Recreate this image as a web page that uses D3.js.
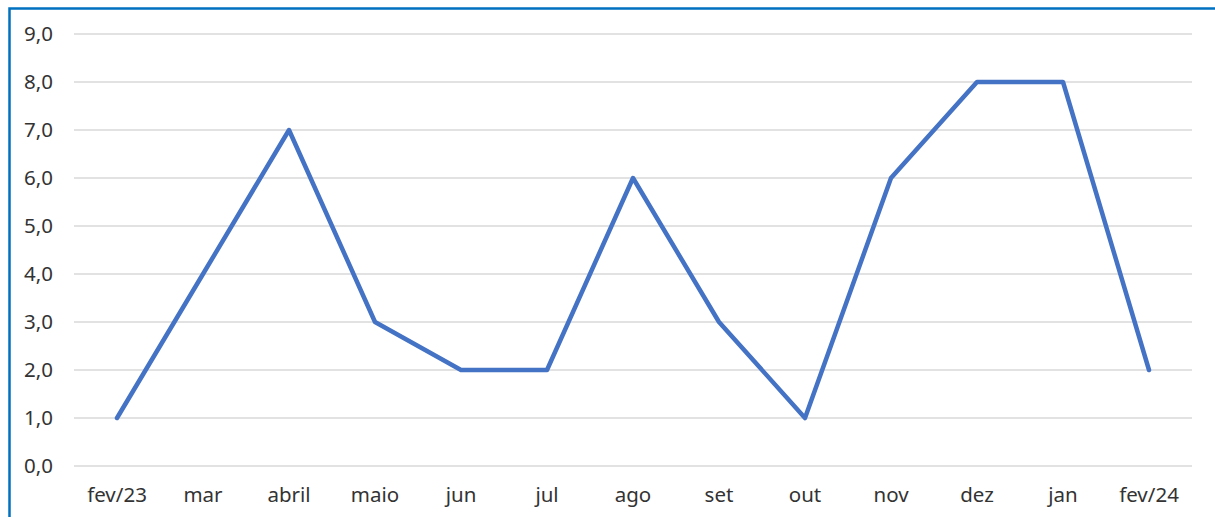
<!DOCTYPE html>
<html>
<head>
<meta charset="utf-8">
<script src="https://cdn.jsdelivr.net/npm/d3@7"></script>
<style>
  body { margin: 0; background: #fff; }
  svg { display: block; }
</style>
</head>
<body>
<div id="graph"></div>
<script>
var months = ["fev/23", "mar", "abril", "maio", "jun", "jul", "ago", "set", "out", "nov", "dez", "jan", "fev/24"];
var values = [1, 4, 7, 3, 2, 2, 6, 3, 1, 6, 8, 8, 2];
var yTicks = [0, 1, 2, 3, 4, 5, 6, 7, 8, 9];

var W = 1215, H = 517;
var margin = {top: 34, right: 23, bottom: 51, left: 74},
    w = W - margin.left - margin.right,
    h = H - margin.top - margin.bottom;

var svg = d3.select("#graph").append("svg")
    .attr("width", W)
    .attr("height", H);

// moldura azul
svg.append("rect")
    .attr("x", 9.5)
    .attr("y", 8.5)
    .attr("width", W + 20)
    .attr("height", H + 20)
    .attr("fill", "none")
    .attr("stroke", "#0070C0")
    .attr("stroke-width", 2.5);

var g = svg.append("g")
    .attr("transform", "translate(" + margin.left + "," + margin.top + ")");

var x = d3.scaleBand().domain(months).range([0, w]);
var y = d3.scaleLinear().domain([0, 9]).range([h, 0]);

// grade horizontal
g.selectAll("line.grid")
    .data(yTicks)
    .enter().append("line")
    .attr("class", "grid")
    .attr("x1", 0)
    .attr("x2", w)
    .attr("y1", function(d) { return y(d); })
    .attr("y2", function(d) { return y(d); })
    .style("stroke", "#d9d9d9")
    .style("stroke-width", "1.5px");

// eixo Y
var yAxis = d3.axisLeft(y)
    .tickValues(yTicks)
    .tickSize(0)
    .tickPadding(21)
    .tickFormat(function(d) { return d3.format(".1f")(d).replace(".", ","); });

g.append("g")
    .call(yAxis)
    .call(function(s) { s.select(".domain").remove(); })
    .selectAll("text")
    .style("font-family", "'Noto Sans', sans-serif")
    .style("font-size", "20.5px")
    .style("fill", "#333");

// eixo X
var xAxis = d3.axisBottom(x).tickSize(0).tickPadding(21);

g.append("g")
    .attr("transform", "translate(0," + h + ")")
    .call(xAxis)
    .call(function(s) { s.select(".domain").remove(); })
    .selectAll("text")
    .style("font-family", "'Noto Sans', sans-serif")
    .style("font-size", "20.5px")
    .style("fill", "#333");

// linha
var line = d3.line()
    .x(function(d, i) { return x(months[i]) + x.bandwidth() / 2; })
    .y(function(d) { return y(d); });

g.append("path")
    .datum(values)
    .attr("fill", "none")
    .attr("stroke", "#4472C4")
    .attr("stroke-width", 4.5)
    .attr("stroke-linejoin", "round")
    .attr("stroke-linecap", "round")
    .attr("d", line);
</script>
</body>
</html>
